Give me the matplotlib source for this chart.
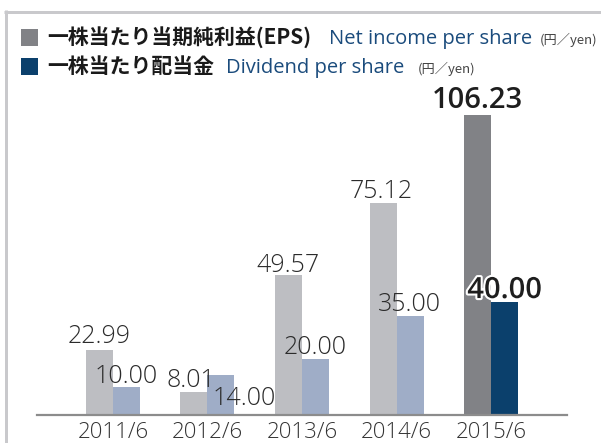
import matplotlib
matplotlib.use("Agg")
import matplotlib.pyplot as plt
from matplotlib.patches import Rectangle
from matplotlib.lines import Line2D
import matplotlib.patheffects as pe
import numpy as np

# ---------------- data ----------------
categories = ["2011/6", "2012/6", "2013/6", "2014/6", "2015/6"]
eps = [22.99, 8.01, 49.57, 75.12, 106.23]
dps = [10.00, 14.00, 20.00, 35.00, 40.00]
eps_labels = ["22.99", "8.01", "49.57", "75.12", "106.23"]
dps_labels = ["10.00", "14.00", "20.00", "35.00", "40.00"]

legend_jp = ["一株当たり当期純利益(EPS)", "一株当たり配当金"]
legend_en = ["Net income per share", "Dividend per share"]
unit_text = "(円／yen)"

# ---------------- style ----------------
W, H = 601, 443
eps_colors = ["#bdbec2"] * 4 + ["#818286"]
dps_colors = ["#9fadc7"] * 4 + ["#0b406c"]
legend_colors = ["#818286", "#0b406c"]
blue_text = "#1a4b7c"
dark = "#2b2b2b"
latin = ["Open Sans", "DejaVu Sans"]
cjk = ["Noto Sans CJK JP", "DejaVu Sans"]

# label offsets in pixels (dx, dy above bar top)
eps_off = [(0, 7), (-3, 5), (0, 3), (-2, 5), (0, 7)]
dps_off = [(0, 4), (23.5, -30), (0, 5), (-1, 5), (0, 4)]
bold_last = True

fig = plt.figure(figsize=(W / 100, H / 100), dpi=100)
fig.patch.set_facecolor("white")


def fx(x):
    return x / W


def fy(y):
    return 1 - y / H


ax = fig.add_axes([fx(37), fy(415), fx(567) - fx(37), (415 - 100) / H])
x = np.arange(len(categories))
bw = 27 / 94.5
ax.bar(x - bw / 2, eps, width=bw, color=eps_colors, linewidth=0)
ax.bar(x + bw / 2, dps, width=bw, color=dps_colors, linewidth=0)
ax.set_xlim(-0.804, 4.804)
ax.set_ylim(0, 315 / 2.824)

for s in ["top", "right", "left"]:
    ax.spines[s].set_visible(False)
ax.spines["bottom"].set_color("#8c8c8c")
ax.spines["bottom"].set_linewidth(1.6)
ax.set_yticks([])
ax.set_xticks(x)
ax.set_xticklabels(categories, family=latin, fontsize=16, color="#333333",
                   fontweight="light")
ax.tick_params(axis="x", length=0, pad=5)

px2pt = 0.72
for i in range(len(categories)):
    last = (i == len(categories) - 1) and bold_last
    for vals, labs, offs, sign in ((eps, eps_labels, eps_off, -1),
                                   (dps, dps_labels, dps_off, 1)):
        dx, dy = offs[i]
        kw = dict(family=latin, ha="center", va="baseline",
                  textcoords="offset points", annotation_clip=False)
        if last:
            kw.update(fontsize=21, fontweight="semibold", color="#1e1e1e")
        else:
            kw.update(fontsize=18, fontweight="light", color=dark)
        t = ax.annotate(labs[i], (x[i] + sign * bw / 2, vals[i]),
                        xytext=(dx * px2pt, dy * px2pt), **kw)
        if last and sign == 1:
            t.set_path_effects([pe.withStroke(linewidth=3, foreground="white")])

# ---------------- frame ----------------
border = "#c9c9cc"
fig.add_artist(Line2D([fx(4), fx(601)], [fy(11.5), fy(11.5)], color=border,
                      linewidth=3 * px2pt, solid_capstyle="butt"))
fig.add_artist(Line2D([fx(5.5), fx(5.5)], [fy(10), fy(443)], color=border,
                      linewidth=3 * px2pt, solid_capstyle="butt"))

# ---------------- legend ----------------
rows_y = [44, 73]
sq_top = [28.5, 57.5]
en_x = [329, 226]
unit_x = [540, 418]
for r in range(2):
    fig.add_artist(Rectangle((fx(21), fy(sq_top[r] + 17)), 17 / W, 17 / H,
                             transform=fig.transFigure, color=legend_colors[r],
                             linewidth=0))
    fig.text(fx(47), fy(rows_y[r]), legend_jp[r], family=cjk, fontsize=15,
             fontweight="bold", color="#1a1a1a", va="baseline", ha="left")
    fig.text(fx(en_x[r]), fy(rows_y[r]), legend_en[r], family=latin,
             fontsize=14.5, color=blue_text, va="baseline", ha="left")
    fig.text(fx(unit_x[r]), fy(rows_y[r]), unit_text, family=cjk,
             fontsize=9.5, color="#444444", va="baseline", ha="left")

fig.savefig("out.png", dpi=100, facecolor="white")
